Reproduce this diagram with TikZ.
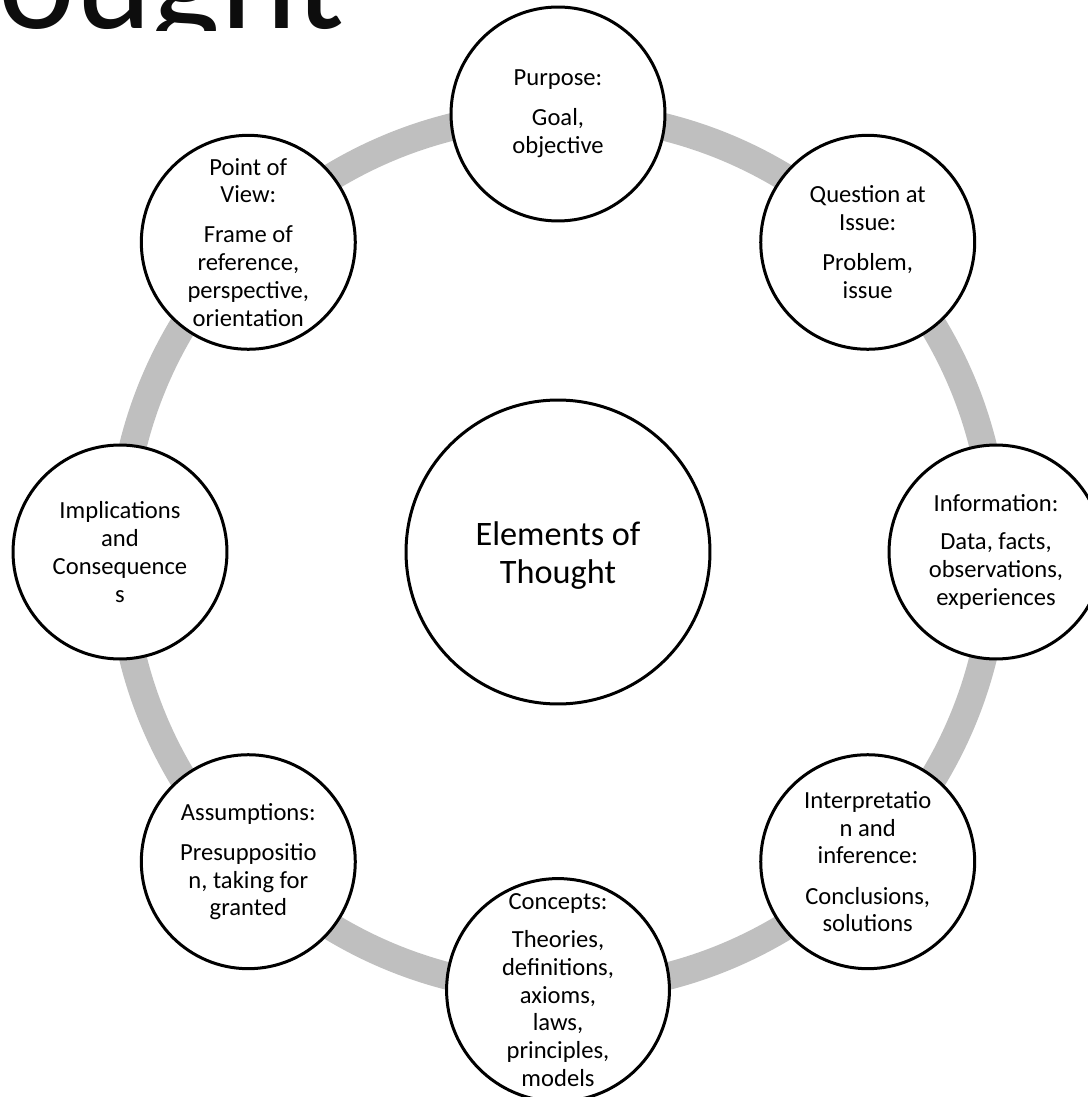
\documentclass[tikz,border=0pt]{standalone}
\usepackage{fontspec}
\setmainfont{Carlito}
\usepackage{tikz}
\usetikzlibrary{positioning}
\definecolor{RingGrey}{HTML}{BFBFBF}
\definecolor{Ink}{HTML}{0D0D0D}

\begin{document}
\begin{tikzpicture}[x=0.02cm, y=0.02cm,
    elem/.style={circle, draw=black, line width=0.06cm, fill=white,
                 minimum size=4.28cm, inner sep=0pt, align=center, text=black,
                 font=\fontsize{14}{15.8}\selectfont},
    hubnode/.style={elem, minimum size=6.08cm, font=\fontsize{19.5}{21.5}\selectfont},
    ring/.style={draw=RingGrey, line width=0.55cm},
    heading/.style={text=Ink, inner sep=0pt, font=\fontsize{83}{90}\selectfont}]
    \useasboundingbox (0,0) rectangle (1087,-1097);

    % Title, only its lower edge shows
    \begin{scope}
        \clip (0,0) rectangle (1087,-31);
        \node[heading, anchor=base east] (title) at (345,-29) {Thought};
    \end{scope}

    % Ring behind the elements
    \coordinate (core) at (558,-552);
    \draw[ring] (core) circle[radius=438];

    % Hub
    \node[hubnode] (hub) at (core) {\\[-4pt]Elements of\\Thought};

    % Eight elements
    \node[elem] (purpose) at (558,-114) {Purpose:\\[7pt]Goal,\\objective};
    \node[elem] (question) at (867.7,-242.3) {Question at\\Issue:\\[7pt]Problem,\\issue};
    \node[elem] (info) at (996,-552) {Information:\\[6pt]Data, facts,\\observations,\\experiences};
    \node[elem] (interp) at (867.7,-861.7) {Interpretatio\\n and\\inference:\\[7pt]Conclusions,\\solutions};
    \node[elem] (concepts) at (558,-990) {Concepts:\\[6pt]Theories,\\definitions,\\axioms,\\laws,\\principles,\\models};
    \node[elem] (assume) at (248.3,-861.7) {Assumptions:\\[7pt]Presuppositio\\n, taking for\\granted};
    \node[elem] (implic) at (120,-552) {Implications\\and\\Consequence\\s};
    \node[elem] (view) at (248.3,-242.3) {Point of\\View:\\[7pt]Frame of\\reference,\\perspective,\\orientation};
\end{tikzpicture}
\end{document}
